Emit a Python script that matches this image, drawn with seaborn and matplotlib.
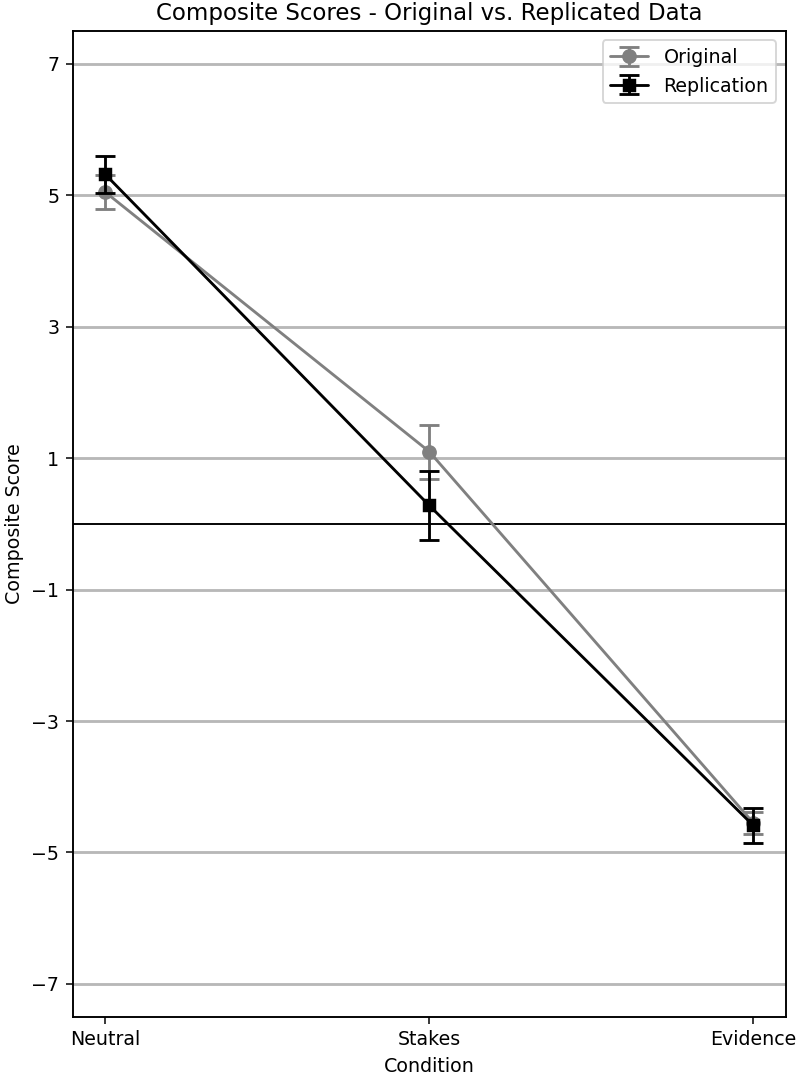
import matplotlib
matplotlib.use("Agg")
from matplotlib import pyplot as plt
import pandas as pd
import seaborn as sns

# condition labels on the x axis
conditions = ["Neutral", "Stakes", "Evidence"]

# composite score means and error half-widths
original_mean = [5.05, 1.10, -4.55]
original_err = [0.26, 0.41, 0.17]
replication_mean = [5.32, 0.28, -4.59]
replication_err = [0.28, 0.52, 0.27]

y_ticks = [-7, -5, -3, -1, 1, 3, 5, 7]

df = pd.DataFrame({
    "Condition": conditions * 2,
    "Score": original_mean + replication_mean,
    "Err": original_err + replication_err,
    "Dataset": ["Original"] * 3 + ["Replication"] * 3,
})
df["x"] = df["Condition"].map({c: i for i, c in enumerate(conditions)})

sns.set_style("ticks")
plt.rcParams["font.family"] = ["DejaVu Sans"]
plt.rcParams.update({"text.color": "black", "axes.labelcolor": "black",
                     "xtick.color": "black", "ytick.color": "black"})

fig = plt.figure(figsize=(797 / 137, 1075 / 137), dpi=137)
ax = fig.add_axes([0.0912, 0.0542, 0.8946, 0.917])

styles = {"Original": ("#808080", "o", 7), "Replication": ("black", "s", 6.5)}
handles = []
for name, (col, mk, ms) in styles.items():
    sub = df[df["Dataset"] == name]
    sns.lineplot(data=sub, x="x", y="Score", ax=ax, color=col, marker=mk, markersize=ms,
                 markeredgecolor=col, linewidth=1.5, legend=False, zorder=3)
    line = ax.get_lines()[-1]
    eb = ax.errorbar(sub["x"], sub["Score"], yerr=sub["Err"], fmt="none", ecolor=col,
                     elinewidth=1.5, capsize=5, capthick=1.5, zorder=3)
    handles.append((line, eb))

ax.axhline(0, color="black", linewidth=1, zorder=2)
ax.set_yticks(y_ticks)
ax.set_ylim(-7.5, 7.5)
ax.set_xticks(range(len(conditions)))
ax.set_xticklabels(conditions)
ax.set_xlim(-0.1, 2.1)
ax.yaxis.grid(True, color="#b8b8b8", linewidth=1.5)
ax.set_axisbelow(True)
for s in ax.spines.values():
    s.set_visible(True)
    s.set_linewidth(1.0)
    s.set_color("black")

ax.set_xlabel("Condition")
ax.set_ylabel("Composite Score")
ax.set_title("Composite Scores - Original vs. Replicated Data")
ax.legend(handles, ["Original", "Replication"], loc="upper right")

plt.savefig("out.png", dpi=137)
